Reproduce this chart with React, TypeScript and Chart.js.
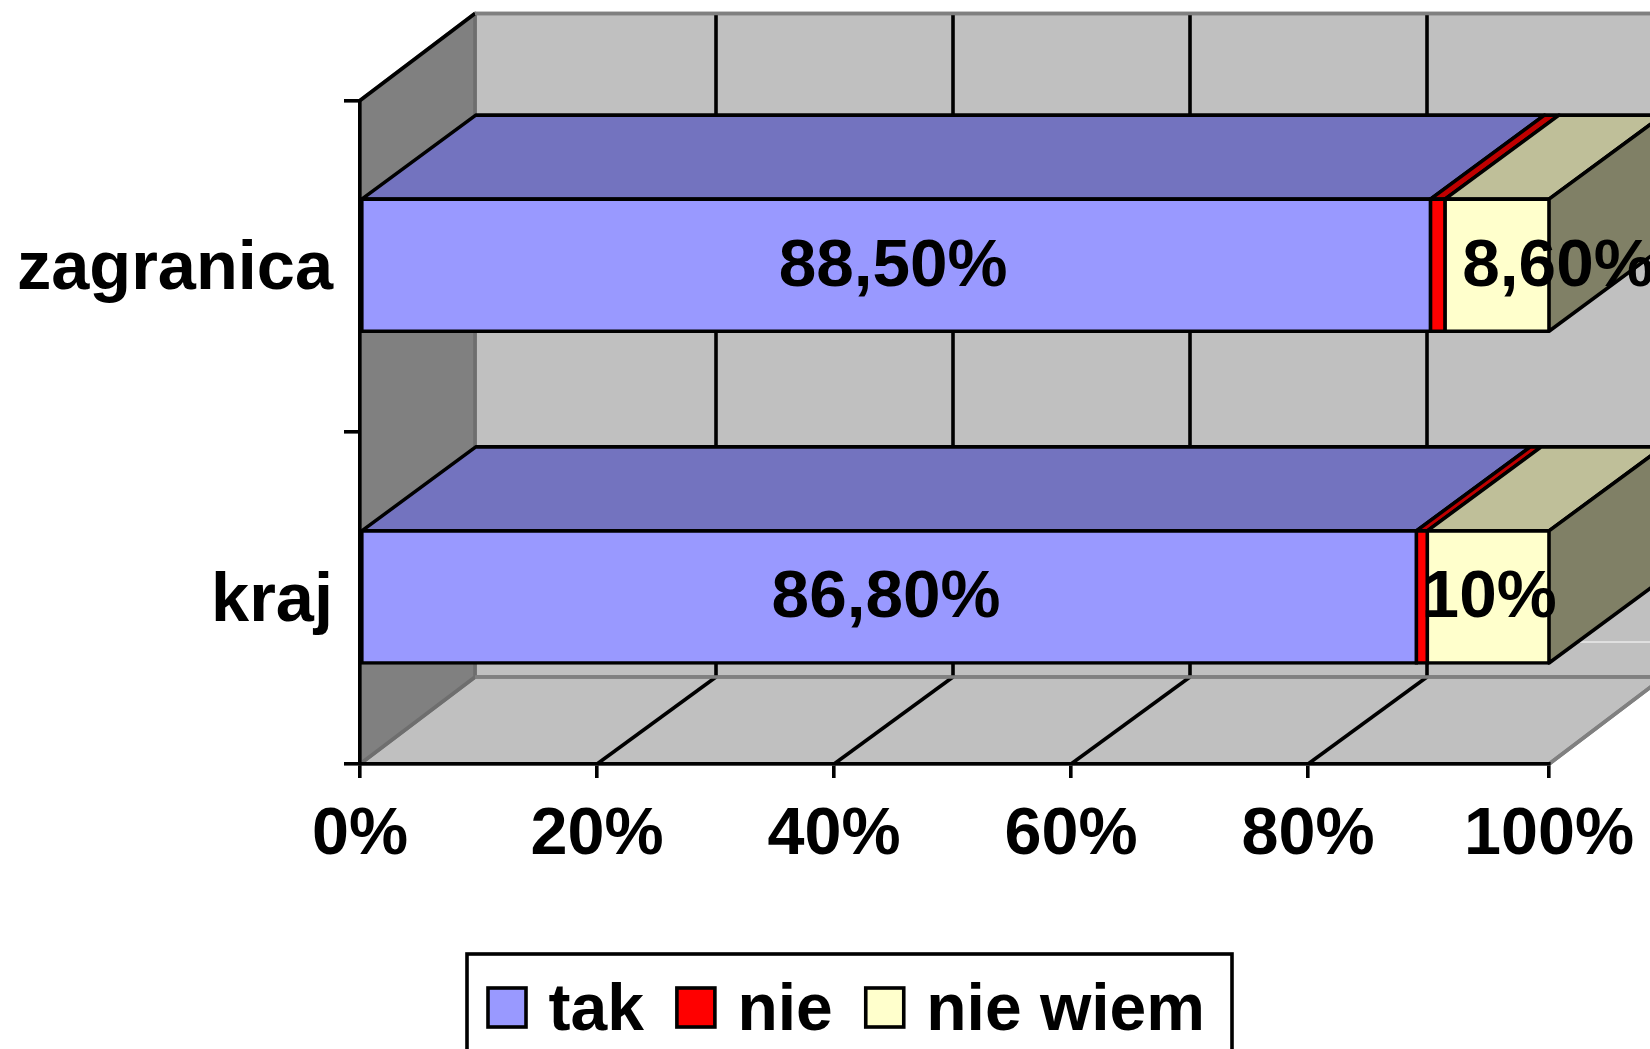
import React, { useEffect, useRef } from "react";
import { Chart, registerables } from "chart.js";

Chart.register(...registerables);

const categories = ["zagranica", "kraj"];
const takValues = [88.5, 86.8];
const nieValues = [1.2, 0.9];
const nieWiemValues = [8.6, 10];
const takLabels = ["88,50%", "86,80%"];
const nieLabels = ["", ""];
const nieWiemLabels = ["8,60%", "10%"];
const seriesNames = ["tak", "nie", "nie wiem"];
const seriesColors = ["#9999FF", "#FF0000", "#FFFFCC"];
const xTicks = { min: 0, max: 100, step: 20 };

const FONT = "'Liberation Sans', Arial, sans-serif";
const FONT_SIZE = 66.5;
const LABEL_FONT_SIZE = 67.5;
const LINE = 3.6;
// depth of the 3-D box
const WALL_DX = 115;
const WALL_DY = 87;
const GRID_DX = 119;
const BAR_DX = 114;
const BAR_DY = 84;
const BAR_SHIFT = -1.2;
// the source's axis ticks sit on a slightly tighter pitch than its 100% end
const TICK_PITCH = 11.85;
// manual offsets of the data labels [series][category]
const labelNudgeX = [[-3, -3], [0, 0], [61, 1]];

const totals = categories.map((_, i) => takValues[i] + nieValues[i] + nieWiemValues[i]);
const share = (values: number[]) => values.map((v, i) => (v / totals[i]) * 100);
const seriesValues = [share(takValues), share(nieValues), share(nieWiemValues)];
const seriesLabels = [takLabels, nieLabels, nieWiemLabels];

function tickPixel(scale: any, value: number) {
  return value >= xTicks.max ? scale.right : scale.left + value * TICK_PITCH;
}

function shade(hex: string, f: number) {
  const n = parseInt(hex.slice(1), 16);
  const c = [(n >> 16) & 255, (n >> 8) & 255, n & 255].map((v) => Math.round(v * f));
  return `rgb(${c[0]},${c[1]},${c[2]})`;
}

function poly(ctx: CanvasRenderingContext2D, pts: number[][], fill: string | null, stroke: string | null, w = LINE) {
  ctx.beginPath();
  pts.forEach((p, i) => (i ? ctx.lineTo(p[0], p[1]) : ctx.moveTo(p[0], p[1])));
  ctx.closePath();
  if (fill) {
    ctx.fillStyle = fill;
    ctx.fill();
  }
  if (stroke) {
    ctx.strokeStyle = stroke;
    ctx.lineWidth = w;
    ctx.lineJoin = "round";
    ctx.stroke();
  }
}

function seg(ctx: CanvasRenderingContext2D, x0: number, y0: number, x1: number, y1: number, color: string, w = LINE) {
  ctx.beginPath();
  ctx.moveTo(x0, y0);
  ctx.lineTo(x1, y1);
  ctx.strokeStyle = color;
  ctx.lineWidth = w;
  ctx.stroke();
}

const box3d = {
  id: "box3d",
  beforeDraw(chart: any) {
    const { ctx, chartArea: a, scales } = chart;
    const { left: l, right: r, top: t, bottom: b } = a;
    const gray = "#808080";
    ctx.save();
    // back wall
    poly(ctx, [[l + WALL_DX, t - WALL_DY], [r + WALL_DX, t - WALL_DY], [r + WALL_DX, b - WALL_DY], [l + WALL_DX, b - WALL_DY]], "#C0C0C0", gray);
    // floor
    poly(ctx, [[l, b], [l + WALL_DX, b - WALL_DY], [r + WALL_DX, b - WALL_DY], [r, b]], "#C0C0C0", gray);
    // left wall
    poly(ctx, [[l, t], [l + WALL_DX, t - WALL_DY], [l + WALL_DX, b - WALL_DY], [l, b]], gray, "#6E6E6E");
    seg(ctx, l, t, l + WALL_DX, t - WALL_DY, "#000");
    // grid on the wall and on the floor
    for (const tick of scales.x.ticks) {
      if (tick.value <= xTicks.min || tick.value >= xTicks.max) continue;
      const x = tickPixel(scales.x, tick.value);
      seg(ctx, x + GRID_DX, t - WALL_DY, x + GRID_DX, b - WALL_DY, "#000");
      seg(ctx, x, b, x + GRID_DX, b - WALL_DY, "#000");
    }
    seg(ctx, l + WALL_DX, t - WALL_DY, r + WALL_DX, t - WALL_DY, gray);
    seg(ctx, l + WALL_DX, b - WALL_DY, r + WALL_DX, b - WALL_DY, gray);
    seg(ctx, r, b, r + WALL_DX, b - WALL_DY, gray);
    // thin light seam on the floor, right of the lower bar
    seg(ctx, r + 31, b - 122, chart.width, b - 122, "#fff", 1);
    ctx.restore();
  },
  beforeDatasetsDraw(chart: any) {
    const { ctx, data } = chart;
    ctx.save();
    ctx.translate(0, BAR_SHIFT);
    data.datasets.forEach((ds: any, d: number) => {
      const last = d === data.datasets.length - 1;
      chart.getDatasetMeta(d).data.forEach((bar: any) => {
        const top = bar.y - bar.height / 2;
        const bottom = bar.y + bar.height / 2;
        poly(ctx, [[bar.base, top], [bar.base + BAR_DX, top - BAR_DY], [bar.x + BAR_DX, top - BAR_DY], [bar.x, top]], shade(ds.backgroundColor, 0.75), "#000");
        if (last) {
          poly(ctx, [[bar.x, top], [bar.x + BAR_DX, top - BAR_DY], [bar.x + BAR_DX, bottom - BAR_DY], [bar.x, bottom]], shade(ds.backgroundColor, 0.5), "#000");
        }
      });
    });
  },
  afterDatasetsDraw(chart: any) {
    const { ctx, data } = chart;
    ctx.restore();
    ctx.save();
    ctx.font = `bold ${LABEL_FONT_SIZE}px ${FONT}`;
    ctx.fillStyle = "#000";
    ctx.textAlign = "center";
    ctx.textBaseline = "alphabetic";
    data.datasets.forEach((_: any, d: number) => {
      chart.getDatasetMeta(d).data.forEach((bar: any, i: number) => {
        const text = seriesLabels[d][i];
        if (!text) return;
        ctx.fillText(text, (bar.base + bar.x) / 2 + labelNudgeX[d][i], bar.y + BAR_SHIFT + 20.5);
      });
    });
    ctx.restore();
  },
  afterDraw(chart: any) {
    const { ctx, data } = chart;
    // legend frame, cut by the bottom of the picture as in the source
    const frame = { x: 467, y: 954, w: 765, h: 120 };
    const swatch = { w: 38, h: 39, y: 988 };
    const gapText = 22.5;
    const gapItem = 33;
    ctx.save();
    ctx.fillStyle = "#fff";
    ctx.strokeStyle = "#000";
    ctx.lineWidth = LINE;
    ctx.fillRect(frame.x, frame.y, frame.w, frame.h);
    ctx.strokeRect(frame.x, frame.y, frame.w, frame.h);
    ctx.font = `bold ${FONT_SIZE - 0.5}px ${FONT}`;
    ctx.textBaseline = "alphabetic";
    ctx.textAlign = "left";
    let x = 488;
    data.datasets.forEach((ds: any) => {
      ctx.fillStyle = ds.backgroundColor;
      ctx.fillRect(x, swatch.y, swatch.w, swatch.h);
      ctx.strokeRect(x, swatch.y, swatch.w, swatch.h);
      ctx.fillStyle = "#000";
      const tx = x + swatch.w + gapText;
      ctx.fillText(ds.label, tx, 1030);
      x = tx + ctx.measureText(ds.label).width + gapItem;
    });
    ctx.restore();
  },
};

export default function App() {
  const ref = useRef<HTMLCanvasElement>(null);
  useEffect(() => {
    const chart = new Chart(ref.current!, {
      type: "bar",
      plugins: [box3d],
      data: {
        labels: categories,
        datasets: seriesNames.map((name, i) => ({
          label: name,
          data: seriesValues[i],
          backgroundColor: seriesColors[i],
          borderColor: "#000",
          borderWidth: LINE,
          borderSkipped: false,
          inflateAmount: LINE / 2,
          barPercentage: 0.398,
          categoryPercentage: 1,
        })),
      },
      options: {
        indexAxis: "y",
        animation: false,
        responsive: false,
        layout: { padding: { top: 100.5, right: 101, bottom: 0, left: 0 } },
        plugins: { legend: { display: false }, tooltip: { enabled: false }, title: { display: false } },
        scales: {
          x: {
            stacked: true,
            min: xTicks.min,
            max: xTicks.max,
            afterFit: (s: any) => {
              s.height = 285;
              s.paddingLeft = 0;
              s.paddingRight = 0;
            },
            afterDataLimits: (s: any) => {
              s.getPixelForTick = (i: number) => tickPixel(s, s.ticks[i].value);
            },
            grid: { drawOnChartArea: false, drawTicks: true, tickLength: 14, color: "#000", lineWidth: LINE },
            border: { display: true, color: "#000", width: LINE },
            ticks: {
              stepSize: xTicks.step,
              maxRotation: 0,
              autoSkip: false,
              padding: 18,
              color: "#000",
              font: { family: FONT, size: FONT_SIZE, weight: "bold" },
              callback: (v: any) => `${v}%`,
            },
          },
          y: {
            stacked: true,
            afterFit: (s: any) => {
              s.width = 360;
              s.paddingTop = 0;
              s.paddingBottom = 0;
            },
            grid: { drawOnChartArea: false, drawTicks: true, tickLength: 16, color: "#000", lineWidth: LINE },
            border: { display: true, color: "#000", width: LINE },
            ticks: {
              padding: 11,
              labelOffset: 4,
              color: "#000",
              font: { family: FONT, size: 68.5, weight: "bold" },
            },
          },
        },
      },
    } as any);
    return () => chart.destroy();
  }, []);
  return (
    <div style={{ position: "absolute", left: 0, top: 0, width: 1650, height: 1049, overflow: "hidden", background: "#fff" }}>
      <canvas ref={ref} width={1650} height={1049} style={{ display: "block" }} />
    </div>
  );
}
